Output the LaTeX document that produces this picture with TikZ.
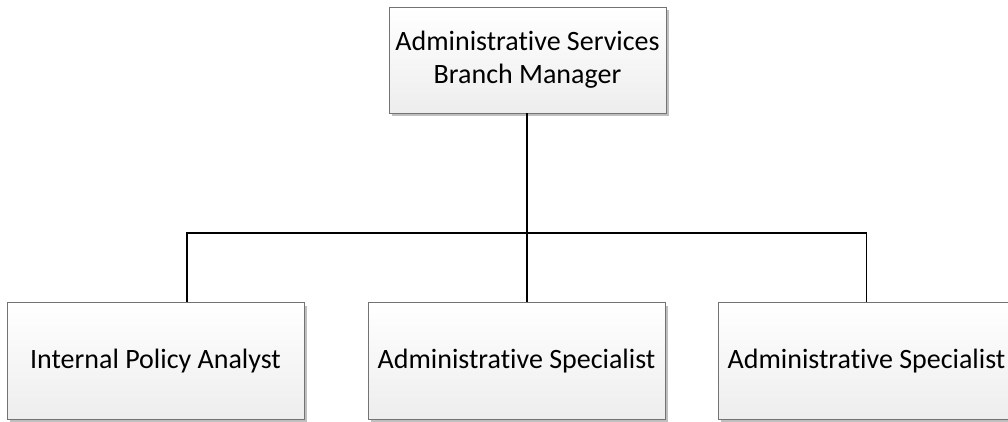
\documentclass[tikz,border=0pt]{standalone}
\usepackage{fontspec}
\setmainfont{Carlito}[Ligatures=NoCommon]
\usetikzlibrary{shadows}
\begin{document}
\begin{tikzpicture}[x=1pt,y=-1pt,
  orgbox/.style={draw=black!55, line width=0.8pt, top color=white, bottom color=black!7,
    minimum width=297pt, minimum height=117pt, inner sep=0pt, align=center,
    font=\fontsize{28}{33}\selectfont,
    drop shadow={shadow xshift=3pt, shadow yshift=-3pt, fill=black!25, opacity=1}},
  link/.style={draw=black, line width=1.4pt}]
\useasboundingbox (0,0) rectangle (1008,421);
\clip (0,0) rectangle (1008,421);
\node[orgbox, minimum width=277pt, minimum height=106pt] (mgr) at (527.5,60) {Administrative Services\\Branch Manager};
\node[orgbox] (ipa) at (155.5,361) {Internal Policy Analyst};
\node[orgbox] (as1) at (516.5,361) {Administrative Specialist};
\node[orgbox] (as2) at (866.5,361) {Administrative Specialist};
\coordinate (bus) at (527,233);
\draw[link] (mgr.south -| bus) -- (bus);
\draw[link] (ipa.north -| 187,0) |- (bus) -| (as2.north);
\draw[link] (bus) -- (bus |- as1.north);
\end{tikzpicture}
\end{document}
